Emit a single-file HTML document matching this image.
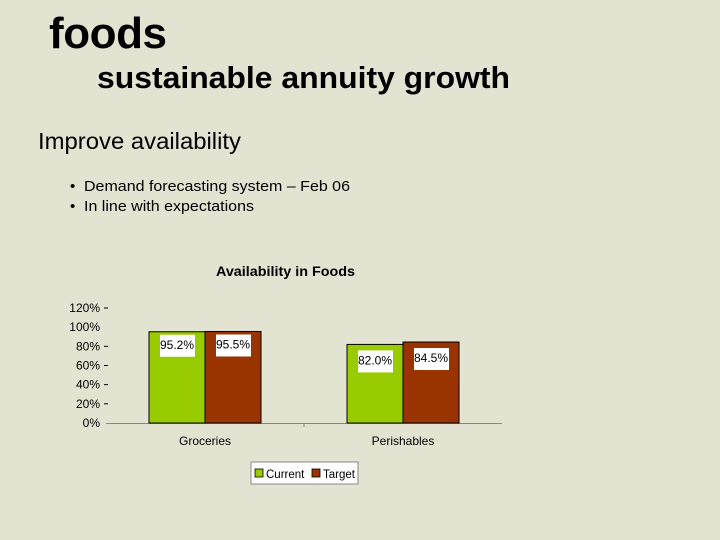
<!DOCTYPE html>
<html><head><meta charset="utf-8">
<style>
html,body{margin:0;padding:0;background:#e3e3d1;}
svg{display:block;font-family:"Liberation Sans",Arial,sans-serif;}
</style></head>
<body>
<svg id="c" width="720" height="540" viewBox="0 0 720 540">
<rect width="720" height="540" fill="#e3e3d1"/>
<text x="49" y="48" font-size="44" font-weight="bold" fill="#000" textLength="118">foods</text>
<text x="97" y="88" font-size="31" fill="#000" font-weight="bold" textLength="413" lengthAdjust="spacingAndGlyphs">sustainable annuity growth</text>
<text x="38" y="149" font-size="23" fill="#000" textLength="203" lengthAdjust="spacingAndGlyphs">Improve availability</text>
<text x="70" y="191" font-size="15" fill="#000">•<tspan x="84" textLength="266" lengthAdjust="spacingAndGlyphs">Demand forecasting system – Feb 06</tspan></text>
<text x="70" y="211" font-size="15" fill="#000">•<tspan x="84" textLength="170" lengthAdjust="spacingAndGlyphs">In line with expectations</tspan></text>
<text x="216" y="276" font-size="14" font-weight="bold" fill="#000" textLength="139" lengthAdjust="spacingAndGlyphs">Availability in Foods</text>
<g id="plot"></g>
<g>
<rect x="251" y="462" width="107" height="22" fill="#fff" stroke="#888" stroke-width="1"/>
<rect x="255" y="469" width="8" height="8" fill="#99cc00" stroke="#000" stroke-width="0.8"/>
<text x="266" y="478" font-size="11.5" fill="#000">Current</text>
<rect x="312" y="469" width="8" height="8" fill="#993300" stroke="#000" stroke-width="0.8"/>
<text x="323" y="478" font-size="11.5" fill="#000">Target</text>
</g>
</svg>
<script>
const categories = ["Groceries", "Perishables"];
const currentValues = [95.2, 82.0];
const targetValues = [95.5, 84.5];
const tickValues = [0, 20, 40, 60, 80, 100, 120];
const tickLabels = ["0%", "20%", "40%", "60%", "80%", "100%", "120%"];

const NS = "http://www.w3.org/2000/svg";
const plot = document.getElementById("plot");
const X0 = 106, X1 = 502, Y0 = 423, PXPER = 115/120;
const y = v => Y0 - v * PXPER;
const catW = (X1 - X0) / categories.length;
const barW = 56;
function mk(tag, attrs){const e=document.createElementNS(NS,tag);for(const k in attrs)e.setAttribute(k,attrs[k]);plot.appendChild(e);return e;}

tickValues.forEach((v,i)=>{
  const t = mk("text",{x:100,y:y(v)+4,"font-size":12,"text-anchor":"end",fill:"#000"});
  t.textContent = tickLabels[i];
  
  
  if (v>0 && v!==100){
    const l = mk("line",{x1:104,x2:108,y1:y(v),y2:y(v),stroke:"#000","stroke-width":1});
    
    
  }
});
const ax = mk("line",{x1:X0,x2:X1,y1:Y0+0.5,y2:Y0+0.5,stroke:"#888","stroke-width":1});


const mt = mk("line",{x1:X0+catW,x2:X0+catW,y1:Y0,y2:Y0+4,stroke:"#888","stroke-width":1});



categories.forEach((c,i)=>{
  const cx = X0 + catW*(i+0.5);
  const lbl = mk("text",{x:cx,y:Y0+22,"font-size":12,"text-anchor":"middle",fill:"#000"});
  lbl.textContent = c;
  
  
  [[currentValues[i],"#99cc00",cx-barW,"current"],[targetValues[i],"#993300",cx,"target"]].forEach(([v,col,bx,s])=>{
    const r = mk("rect",{x:bx,y:y(v),width:barW,height:Y0-y(v),fill:col,stroke:"#000","stroke-width":1});
    
    
    const bxm = bx+barW/2, by = y(v)+ (i===0?3:6);
    const box = mk("rect",{x:bxm-17,y:by,width:35,height:22,fill:"#fff"});
    
    
    const tx = mk("text",{x:bxm,y:by+14,"font-size":12,"text-anchor":"middle",fill:"#000"});
    tx.textContent = v.toFixed(1)+"%";
    
    
  });
});
</script>
</body></html>
